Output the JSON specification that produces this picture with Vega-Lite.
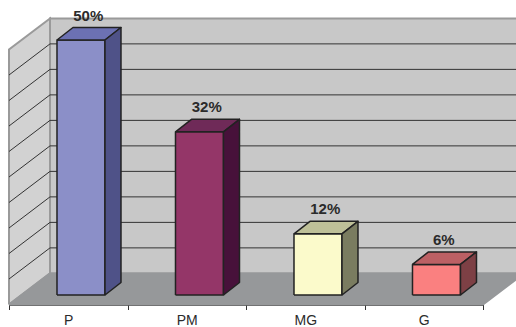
{
  "$schema": "https://vega.github.io/schema/vega-lite/v6.json",
  "width": 474,
  "height": 255,
  "autosize": "none",
  "padding": {"left": 9, "top": 49.5, "right": 33, "bottom": 22.5},
  "background": "white",
  "config": {"view": {"stroke": null}},
  "datasets": {
    "shares": [
      {"category": "P", "value": 50},
      {"category": "PM", "value": 32},
      {"category": "MG", "value": 12},
      {"category": "G", "value": 6}
    ],
    "surfaces": [{"surface": "left wall"}, {"surface": "back wall"}, {"surface": "floor"}],
    "levels": [
      {"level": 5}, {"level": 10}, {"level": 15}, {"level": 20}, {"level": 25},
      {"level": 30}, {"level": 35}, {"level": 40}, {"level": 45}
    ]
  },
  "layer": [
    {
      "data": {"name": "surfaces"},
      "transform": [
        {"calculate": "datum.surface === 'floor' ? [0,4,4.346,0.346,0] : datum.surface === 'left wall' ? [0,0.346,0.346,0,0] : [0.346,4.346,4.346,0.346,0.346]", "as": "vx"},
        {"calculate": "datum.surface === 'floor' ? [0,0,6.1,6.1,0] : datum.surface === 'left wall' ? [0,6.1,56.1,50,0] : [6.1,6.1,56.1,56.1,6.1]", "as": "vy"},
        {"calculate": "[0,1,2,3,4]", "as": "k"},
        {"flatten": ["vx", "vy", "k"]}
      ],
      "mark": {"type": "line", "strokeWidth": 2, "interpolate": "linear"},
      "encoding": {
        "x": {"field": "vx", "type": "quantitative", "scale": {"domain": [0, 4], "nice": false, "zero": false}, "axis": null},
        "y": {"field": "vy", "type": "quantitative", "scale": {"domain": [0, 50], "nice": false, "zero": false}, "axis": null},
        "order": {"field": "k", "type": "quantitative"},
        "detail": {"field": "surface"},
        "fill": {"field": "surface", "type": "nominal", "legend": null,
          "scale": {"domain": ["left wall", "back wall", "floor"], "range": ["#d2d2d2", "#c8c8c8", "#96989a"]}},
        "stroke": {"field": "surface", "type": "nominal", "legend": null,
          "scale": {"domain": ["left wall", "back wall", "floor"], "range": ["#9a9a9a", "#9a9a9a", "#96989a"]}}
      }
    },
    {
      "data": {"name": "levels"},
      "transform": [
        {"calculate": "[0,0.346,4.346]", "as": "vx"},
        {"calculate": "[datum.level, datum.level + 6.1, datum.level + 6.1]", "as": "vy"},
        {"calculate": "[0,1,2]", "as": "k"},
        {"flatten": ["vx", "vy", "k"]}
      ],
      "mark": {"type": "line", "stroke": "#333333", "strokeWidth": 1},
      "encoding": {
        "x": {"field": "vx", "type": "quantitative", "scale": {"domain": [0, 4], "nice": false, "zero": false}, "axis": null},
        "y": {"field": "vy", "type": "quantitative", "scale": {"domain": [0, 50], "nice": false, "zero": false}, "axis": null},
        "order": {"field": "k", "type": "quantitative"},
        "detail": {"field": "level"}
      }
    },
    {
      "data": {"name": "shares"},
      "transform": [
        {"calculate": "indexof(['P','PM','MG','G'], datum.category)", "as": "i"},
        {"calculate": "['front','top','side']", "as": "face"},
        {"flatten": ["face"]},
        {"calculate": "datum.i + 0.405", "as": "x0"},
        {"calculate": "datum.x0 + 0.405", "as": "x1"},
        {"calculate": "1.86", "as": "b"},
        {"calculate": "datum.b + datum.value", "as": "t"},
        {"calculate": "datum.face === 'front' ? [datum.x0,datum.x1,datum.x1,datum.x0,datum.x0] : datum.face === 'top' ? [datum.x0,datum.x1,datum.x1+0.135,datum.x0+0.135,datum.x0] : [datum.x1,datum.x1+0.135,datum.x1+0.135,datum.x1,datum.x1]", "as": "vx"},
        {"calculate": "datum.face === 'front' ? [datum.b,datum.b,datum.t,datum.t,datum.b] : datum.face === 'top' ? [datum.t,datum.t,datum.t+2.45,datum.t+2.45,datum.t] : [datum.b,datum.b+2.45,datum.t+2.45,datum.t,datum.b]", "as": "vy"},
        {"calculate": "[0,1,2,3,4]", "as": "k"},
        {"flatten": ["vx", "vy", "k"]},
        {"calculate": "datum.category + ' ' + datum.face", "as": "piece"}
      ],
      "mark": {"type": "line", "stroke": "#222222", "strokeWidth": 1.5, "strokeJoin": "round"},
      "encoding": {
        "x": {"field": "vx", "type": "quantitative", "scale": {"domain": [0, 4], "nice": false, "zero": false}, "axis": null},
        "y": {"field": "vy", "type": "quantitative", "scale": {"domain": [0, 50], "nice": false, "zero": false}, "axis": null},
        "order": {"field": "k", "type": "quantitative"},
        "detail": {"field": "piece"},
        "fill": {"field": "piece", "type": "nominal", "legend": null,
          "scale": {
            "domain": ["P front", "P top", "P side", "PM front", "PM top", "PM side", "MG front", "MG top", "MG side", "G front", "G top", "G side"],
            "range": ["#8b8fc8", "#6c71b3", "#4f5288", "#943668", "#6f2a58", "#47113a", "#fbfacb", "#bec098", "#7a7c60", "#fa8080", "#bc6064", "#7d4045"]
          }}
      }
    },
    {
      "data": {"name": "shares"},
      "transform": [{"calculate": "datum.value + '%'", "as": "label"}],
      "mark": {"type": "text", "font": "Liberation Sans", "fontSize": 15, "fontWeight": "bold", "color": "#2b2b2b", "dx": 20, "dy": -34, "baseline": "middle"},
      "encoding": {
        "x": {
          "field": "category", "type": "nominal", "sort": ["P", "PM", "MG", "G"], "title": null,
          "scale": {"paddingInner": 0, "paddingOuter": 0},
          "axis": {"orient": "bottom", "tickBand": "extent", "labelAngle": 0, "labelFont": "Liberation Sans", "labelFontSize": 14, "labelColor": "#2b2b2b", "labelPadding": 4, "tickSize": 5, "tickColor": "#333333", "domainColor": "#111111", "domainWidth": 1.5, "grid": false}
        },
        "y": {"field": "value", "type": "quantitative", "scale": {"domain": [0, 50], "nice": false, "zero": false}, "axis": null},
        "text": {"field": "label", "type": "nominal"}
      }
    }
  ],
  "resolve": {"scale": {"x": "independent", "fill": "independent", "stroke": "independent"}}
}
